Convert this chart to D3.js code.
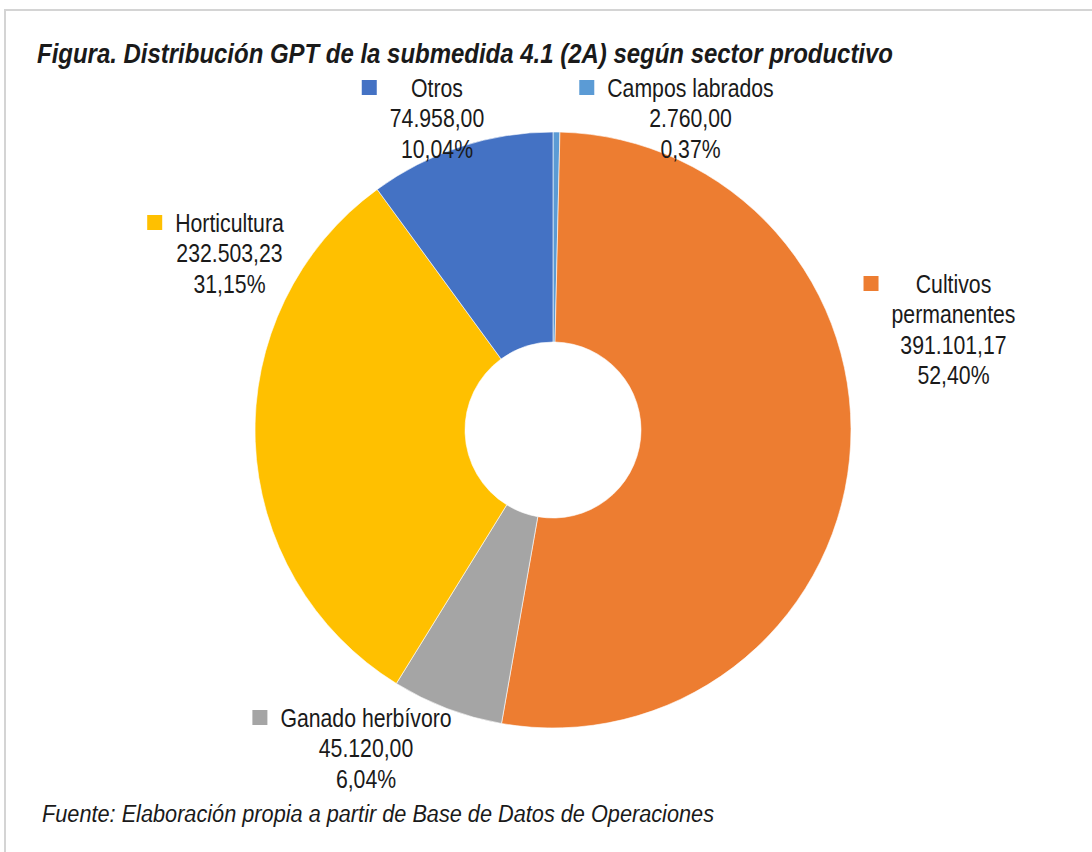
<!DOCTYPE html>
<html>
<head>
<meta charset="utf-8">
<script src="https://cdn.jsdelivr.net/npm/d3@7"></script>
<style>
  body { margin: 0; background: #fff; }
  svg { display: block; }
  text { font-family: "Liberation Sans", Arial, sans-serif; fill: #1a1a1a; }
</style>
</head>
<body>
<script>
// datos del grafico
var categories = ["Campos labrados", "Cultivos permanentes", "Ganado herbívoro", "Horticultura", "Otros"];
var values = [2760.00, 391101.17, 45120.00, 232503.23, 74958.00];
var colors = ["#5b9bd5", "#ed7d31", "#a5a5a5", "#ffc000", "#4472c4"];

// donde va cada etiqueta (x centro, y centro primera linea), y como se parte el nombre
var labelPos = [[690.5, 88], [953.5, 284], [366, 718], [229.5, 223], [437, 88]];
var labelLines = [["Campos labrados"], ["Cultivos", "permanentes"], ["Ganado herbívoro"], ["Horticultura"], ["Otros"]];

var width = 1092, height = 852;
var cx = 553, cy = 430, rOuter = 298, rInner = 88;
var narrow = 0.85;   // imitar Arial Narrow

var es = d3.formatLocale({decimal: ",", thousands: ".", grouping: [3], currency: ["", "€"]});
var fmtNum = es.format(",.2f");
var fmtPct = es.format(".2%");
var total = d3.sum(values);

var svg = d3.select("body").append("svg")
    .attr("width", width)
    .attr("height", height);

// marco
svg.append("rect")
    .attr("x", 5).attr("y", 10)
    .attr("width", width + 20).attr("height", height + 20)
    .attr("fill", "none")
    .attr("stroke", "#d4d4d4")
    .attr("stroke-width", 2);

svg.append("text")
    .attr("x", 37).attr("y", 63)
    .attr("textLength", 856)
    .attr("lengthAdjust", "spacingAndGlyphs")
    .style("font-size", "27px")
    .style("font-weight", "bold")
    .style("font-style", "italic")
    .text("Figura. Distribución GPT de la submedida 4.1 (2A) según sector productivo");

var pie = d3.pie().sort(null).value(function (d) { return d; });
var arc = d3.arc().innerRadius(rInner).outerRadius(rOuter);

var g = svg.append("g").attr("transform", "translate(" + cx + "," + cy + ")");
g.selectAll("path")
    .data(pie(values))
    .enter().append("path")
    .attr("d", arc)
    .attr("fill", function (d, i) { return colors[i]; })
    .attr("stroke", "#fff")
    .attr("stroke-width", 0.6);

// etiquetas con clave de leyenda
var lineH = 30.5;
categories.forEach(function (name, i) {
    var p = labelPos[i];
    var lines = labelLines[i].concat([fmtNum(values[i]), fmtPct(values[i] / total)]);
    var lab = svg.append("g");
    var maxW = 0;
    lines.forEach(function (t, k) {
        var tx = lab.append("text")
            .attr("transform", "translate(" + p[0] + "," + (p[1] + k * lineH) + ") scale(" + narrow + ",1)")
            .attr("dy", "0.35em")
            .attr("text-anchor", "middle")
            .style("font-size", "25px")
            .text(t);
        maxW = Math.max(maxW, tx.node().getComputedTextLength() * narrow);
    });
    // cuadradito a la izquierda del bloque
    lab.append("rect")
        .attr("x", p[0] - maxW / 2 - 13 - 15).attr("y", p[1] - 8)
        .attr("width", 15).attr("height", 15)
        .attr("fill", colors[i]);
});

svg.append("text")
    .attr("x", 42).attr("y", 822)
    .attr("textLength", 672)
    .attr("lengthAdjust", "spacingAndGlyphs")
    .style("font-size", "23px")
    .style("font-style", "italic")
    .text("Fuente: Elaboración propia a partir de Base de Datos de Operaciones");
</script>
</body>
</html>
